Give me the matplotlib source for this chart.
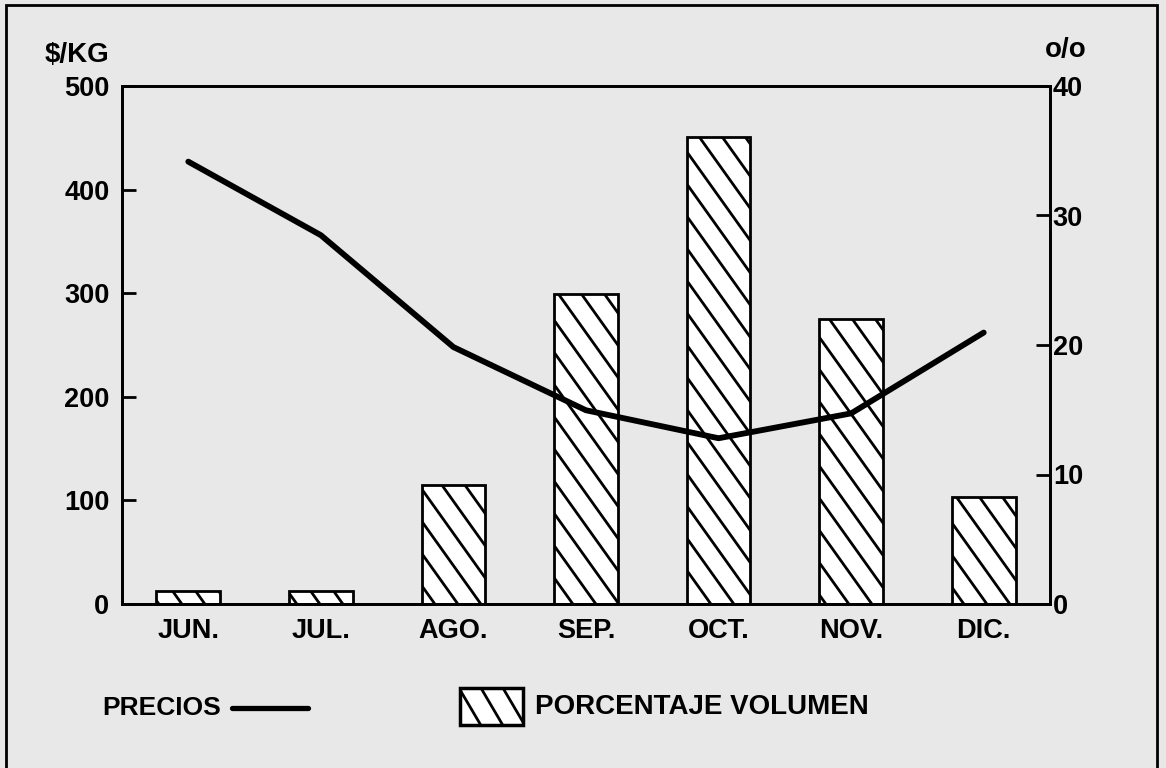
import numpy as np
import matplotlib
matplotlib.use("Agg")
import matplotlib.pyplot as plt
from matplotlib.collections import LineCollection
from matplotlib.patches import Rectangle
from matplotlib.lines import Line2D

plt.rcParams['font.family'] = ['Liberation Sans', 'DejaVu Sans']
plt.rcParams['font.weight'] = 'bold'

# ---- data ----
months = ["JUN.", "JUL.", "AGO.", "SEP.", "OCT.", "NOV.", "DIC."]
precios = [427, 356, 248, 187, 160, 184, 262]          # $/KG (left axis)
volumen = [1.0, 1.0, 9.2, 23.9, 36.1, 22.0, 8.3]       # % (right axis)
left_ticks = [0, 100, 200, 300, 400, 500]
right_ticks = [0, 10, 20, 30, 40]
left_unit = "$/KG"
right_unit = "o/o"
legend_line_label = "PRECIOS"
legend_bar_label = "PORCENTAJE VOLUMEN"

BG = '#e8e8e8'
W, H = 1166, 768
DPI = 100

fig = plt.figure(figsize=(W / DPI, H / DPI), dpi=DPI, facecolor=BG)

def fx(px):
    return px / W

def fy(py):
    return (H - py) / H

ax_l, ax_r, ax_t, ax_b = 122, 1050, 86, 604
ax2 = fig.add_axes([fx(ax_l), fy(ax_b), fx(ax_r - ax_l), (ax_b - ax_t) / H])
ax = ax2.twinx()
ax.yaxis.tick_left()
ax.yaxis.set_label_position('left')
ax2.yaxis.tick_right()
ax2.yaxis.set_label_position('right')
ax.set_zorder(3)
ax2.set_zorder(1)
ax.patch.set_visible(False)
ax2.set_facecolor(BG)

x = np.arange(len(months))
ax2.set_xlim(-0.5, 6.5)
ax2.set_ylim(0, 40)
ax.set_ylim(0, 500)

bars = ax2.bar(x, volumen, width=0.48, facecolor='white', edgecolor='black',
               linewidth=2, zorder=2)

ax.plot(x, precios, color='black', linewidth=4.2, solid_capstyle='round',
        solid_joinstyle='round', zorder=5)

# ticks
ax.set_yticks(left_ticks)
ax.set_yticklabels([str(t) for t in left_ticks])
ax2.set_yticks(right_ticks)
ax2.set_yticklabels([str(t) for t in right_ticks])
ax.tick_params(axis='y', direction='in', length=10, width=2, pad=9,
               labelsize=19.5, left=True, right=False, labelleft=True, labelright=False)
ax2.tick_params(axis='y', direction='in', length=10, width=2, pad=2,
                labelsize=19.5, left=False, right=True, labelleft=False, labelright=True)
ax2.set_xticks(x)
ax2.set_xticklabels(months)
ax2.tick_params(axis='x', length=0, pad=10, labelsize=19.5)
ax.tick_params(axis='x', length=0, labelbottom=False)
for a in (ax, ax2):
    for s in a.spines.values():
        s.set_linewidth(2)
    for lab in a.get_xticklabels() + a.get_yticklabels():
        lab.set_fontweight('bold')

# hatch: steep "\" lines clipped to each bar
fig.canvas.draw()

def hatch_lines(x0, y0, x1, y1, slope, spacing):
    # display coords, y up; lines y = c - slope*x
    cmin = y0 + slope * x0
    cmax = y1 + slope * x1
    step = slope * spacing
    k0 = int(np.floor(cmin / step))
    k1 = int(np.ceil(cmax / step))
    segs = []
    for k in range(k0, k1 + 1):
        c = k * step
        xa, xb = x0 - 5, x1 + 5
        segs.append([(xa, c - slope * xa), (xb, c - slope * xb)])
    return segs

inv = ax2.transData.inverted()
for b in bars:
    (bx0, by0), (bx1, by1) = ax2.transData.transform(
        [(b.get_x(), b.get_y()), (b.get_x() + b.get_width(), b.get_y() + b.get_height())])
    segs = hatch_lines(bx0, by0, bx1, by1, 1.4, 23)
    segs_d = [inv.transform(np.array(s)) for s in segs]
    lc = LineCollection(segs_d, colors='black', linewidths=2.0, transform=ax2.transData,
                        zorder=2.5)
    ax2.add_collection(lc, autolim=False)
    lc.set_clip_path(b.get_path(), b.get_transform())
ax2.set_xlim(-0.5, 6.5)
ax2.set_ylim(0, 40)

# unit labels
fig.text(fx(77), fy(55), left_unit, ha='center', va='center', fontsize=20, fontweight='bold')
fig.text(fx(1066), fy(50), right_unit, ha='center', va='center', fontsize=20, fontweight='bold')

# legend
fig.text(fx(102), fy(708), legend_line_label, ha='left', va='center', fontsize=19, fontweight='bold')
fig.add_artist(Line2D([fx(232), fx(308)], [fy(708), fy(708)], color='black', linewidth=3.8,
                      solid_capstyle='round', transform=fig.transFigure))
box = Rectangle((fx(460), fy(725)), fx(523) - fx(460), fy(688) - fy(725),
                facecolor='white', edgecolor='black', linewidth=2.5, transform=fig.transFigure,
                zorder=3)
fig.add_artist(box)
finv = fig.transFigure.inverted()
lsegs = hatch_lines(460, H - 725, 523, H - 688, 1.7, 22)
lsegs_f = [finv.transform(np.array(s)) for s in lsegs]
llc = LineCollection(lsegs_f, colors='black', linewidths=2.0, transform=fig.transFigure, zorder=4)
fig.add_artist(llc)
llc.set_clip_path(box.get_path(), box.get_transform())
fig.text(fx(535), fy(707), legend_bar_label, ha='left', va='center', fontsize=20, fontweight='bold')

# outer frame
fig.add_artist(Rectangle((fx(6), fy(790)), fx(1157) - fx(6), fy(5) - fy(790), fill=False,
                         edgecolor='black', linewidth=2, transform=fig.transFigure))

fig.savefig("out.png", dpi=DPI, facecolor=BG)
